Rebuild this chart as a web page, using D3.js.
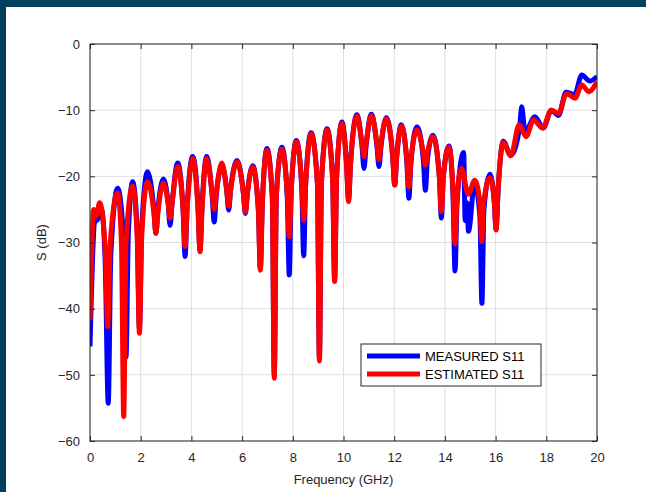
<!DOCTYPE html>
<html>
<head>
<meta charset="utf-8">
<script src="https://cdn.jsdelivr.net/npm/d3@7"></script>
<style>
  body { margin: 0; background: #fff; }
  text { font-family: "Liberation Sans", Arial, sans-serif; }
</style>
</head>
<body>
<div id="chart"></div>
<script>
// measured S11 (blue)
var measFreq = [0, 0.04, 0.18, 0.3, 0.45, 0.6, 0.72, 0.82, 1.09, 1.33, 1.42, 1.51, 1.68, 1.86, 1.95, 2.04, 2.27,
  2.52, 2.6, 2.68, 2.89, 3.08, 3.16, 3.24, 3.46, 3.67, 3.75, 3.83, 4.05, 4.26, 4.34, 4.42, 4.6, 4.82, 4.9, 4.98,
  5.2, 5.39, 5.47, 5.55, 5.8, 6.05, 6.13, 6.21, 6.42, 6.64, 6.72, 6.8, 6.98, 7.19, 7.27, 7.35, 7.57,
  7.78, 7.86, 7.94, 8.14, 8.35, 8.43, 8.51, 8.72, 8.97, 9.05, 9.13, 9.35, 9.57, 9.65, 9.73, 9.94,
  10.12, 10.2, 10.28, 10.53, 10.73, 10.81, 10.89, 11.1, 11.32, 11.4, 11.48, 11.69, 11.94, 12.02, 12.1, 12.28,
  12.5, 12.58, 12.66, 12.9, 13.15, 13.23, 13.31, 13.53, 13.78, 13.86, 13.94, 14.16, 14.32, 14.4, 14.48,
  14.74, 14.8, 14.87, 14.93, 15.17, 15.38, 15.46, 15.54, 15.78, 15.95, 16.02, 16.1,
  16.3, 16.6, 16.95, 17.03, 17.16, 17.55, 17.88, 18.2, 18.48, 18.78, 19.12, 19.4, 19.72, 20];
var measS11 = [-45.7, -40, -27, -26.5, -25, -33, -54.3, -32, -21.8, -30, -47.3, -29, -20.8, -28, -43, -28, -19.3,
  -25, -28.6, -25, -20.4, -24, -27.4, -24, -18, -25, -32.1, -25, -17, -24.5, -31.2, -24.5, -17, -23, -26.9, -23,
  -18.5, -22, -25.1, -22, -17.6, -22.5, -25.6, -22.5, -18.4, -25, -34, -24, -15.8, -23, -50, -23, -15.6,
  -23, -34.9, -22, -14.6, -21.5, -32, -21, -13.4, -21, -47.5, -21, -12.8, -20, -35.5, -20, -11.8,
  -18, -23.5, -18, -10.7, -15.5, -18.8, -15.5, -10.6, -15.5, -18.5, -15.5, -11.1, -17, -21.3, -17, -12.2,
  -18, -23.3, -18, -12.5, -17.5, -22.1, -17.5, -13.8, -20, -26.3, -20, -15.4, -23, -34.3, -24,
  -16.4, -26.7, -24, -28.3, -21.1, -26, -39.2, -25, -19.7, -24, -28, -22,
  -14.7, -16.8, -12.5, -9.5, -13.3, -11.0, -12.7, -10.0, -10.8, -7.3, -7.6, -4.7, -5.6, -4.9];

// estimated S11 (red)
var estFreq = [0, 0.03, 0.15, 0.25, 0.38, 0.6, 0.7, 0.8, 1.09, 1.24, 1.33, 1.42, 1.68, 1.86, 1.95, 2.04, 2.27,
  2.52, 2.6, 2.68, 2.89, 3.08, 3.16, 3.24, 3.46, 3.67, 3.75, 3.83, 4.05, 4.26, 4.34, 4.42, 4.6, 4.82, 4.9, 4.98,
  5.2, 5.39, 5.47, 5.55, 5.8, 6.05, 6.13, 6.21, 6.42, 6.64, 6.72, 6.8, 6.98, 7.19, 7.27, 7.35, 7.57,
  7.78, 7.86, 7.94, 8.14, 8.35, 8.43, 8.51, 8.72, 8.97, 9.05, 9.13, 9.35, 9.57, 9.65, 9.73, 9.94,
  10.12, 10.2, 10.28, 10.53, 10.73, 10.81, 10.89, 11.1, 11.32, 11.4, 11.48, 11.69, 11.94, 12.02, 12.1, 12.28,
  12.5, 12.58, 12.66, 12.9, 13.15, 13.23, 13.31, 13.53, 13.78, 13.86, 13.94, 14.16, 14.32, 14.4, 14.48,
  14.66, 14.92, 15.18, 15.38, 15.45, 15.53, 15.78, 15.95, 16.02, 16.1,
  16.3, 16.6, 16.93, 17.2, 17.5, 17.85, 18.2, 18.48, 18.8, 19.13, 19.4, 19.68, 20];
var estS11 = [-41.7, -37, -25, -26, -24, -31, -42.7, -30, -22.5, -30, -56.3, -30, -21.5, -29, -43.7, -29, -20.8,
  -25.5, -28.6, -25.5, -21, -24, -26.3, -24, -18.5, -25, -30.6, -25, -17.3, -25, -31.4, -25, -17.3, -22.5, -25, -22.5,
  -18, -22, -24.5, -22, -17.8, -22.5, -25.4, -22.5, -18.6, -25, -34.2, -24, -16.1, -23, -50.5, -23, -15.9,
  -22.5, -29.1, -22, -14.8, -21, -26.6, -21, -13.6, -21, -47.9, -21, -13, -20.5, -35.9, -20, -12,
  -18.5, -23.8, -18, -10.9, -15, -17, -15, -10.8, -15, -17.5, -15, -11.3, -17, -21.3, -17, -12.4,
  -17.5, -21.6, -17.5, -13, -16.5, -18.3, -16.5, -14, -20, -25.3, -20, -15.6, -22, -30.2, -23,
  -18.8, -22.7, -20.6, -24, -29.9, -24, -20.2, -24, -28.1, -22,
  -14.9, -16.9, -12.2, -14.0, -11.5, -12.7, -10.0, -10.5, -7.5, -8.2, -6.2, -7.2, -5.7];

var xTicks = [0, 2, 4, 6, 8, 10, 12, 14, 16, 18, 20];
var yTicks = [0, -10, -20, -30, -40, -50, -60];
var seriesNames = ["MEASURED S11", "ESTIMATED S11"];
var seriesColors = ["#0000ff", "#ff0000"];

var W = 646, H = 492;
var margin = { top: 44, right: 49, bottom: 51, left: 90 };
var width = W - margin.left - margin.right;
var height = H - margin.top - margin.bottom;

var svg = d3.select("#chart").append("svg")
  .attr("width", W)
  .attr("height", H);

// dark frame strips
svg.append("rect").attr("x", 0).attr("y", 0).attr("width", W).attr("height", 7).attr("fill", "#02415b");
svg.append("rect").attr("x", 0).attr("y", 0).attr("width", 6).attr("height", H).attr("fill", "#02415b");

var g = svg.append("g").attr("transform", "translate(" + margin.left + "," + margin.top + ")");

var x = d3.scaleLinear().domain([0, 20]).range([0, width]);
var y = d3.scaleLinear().domain([-60, 0]).range([height, 0]);

// grid
g.append("g").selectAll("line").data(xTicks).enter().append("line")
  .attr("x1", function (d) { return x(d); }).attr("x2", function (d) { return x(d); })
  .attr("y1", 0).attr("y2", height)
  .attr("stroke", "#dfdfdf").attr("stroke-width", 1);
g.append("g").selectAll("line").data(yTicks).enter().append("line")
  .attr("y1", function (d) { return y(d); }).attr("y2", function (d) { return y(d); })
  .attr("x1", 0).attr("x2", width)
  .attr("stroke", "#dfdfdf").attr("stroke-width", 1);

var line = d3.line()
  .x(function (d) { return x(d[0]); })
  .y(function (d) { return y(d[1]); })
  .curve(d3.curveMonotoneX);

var meas = measFreq.map(function (f, i) { return [f, measS11[i]]; });
var est = estFreq.map(function (f, i) { return [f, estS11[i]]; });

g.append("clipPath").attr("id", "clip").append("rect")
  .attr("width", width).attr("height", height);

[meas, est].forEach(function (s, i) {
  g.append("path")
    .datum(s)
    .attr("clip-path", "url(#clip)")
    .attr("fill", "none")
    .attr("stroke", seriesColors[i])
    .attr("stroke-width", 5)
    .attr("stroke-linejoin", "round")
    .attr("d", line);
});

// axes (ticks point inward)
var axColor = "#262626";
var xAxis = g.append("g").attr("transform", "translate(0," + height + ")")
  .call(d3.axisBottom(x).tickValues(xTicks).tickSize(-5).tickPadding(12));
var yAxis = g.append("g")
  .call(d3.axisLeft(y).tickValues(yTicks).tickSize(-5).tickPadding(10));
var xTop = g.append("g")
  .call(d3.axisTop(x).tickValues(xTicks).tickSize(-5).tickFormat(""));
var yRight = g.append("g").attr("transform", "translate(" + width + ",0)")
  .call(d3.axisRight(y).tickValues(yTicks).tickSize(-5).tickFormat(""));

[xAxis, yAxis, xTop, yRight].forEach(function (a) {
  a.select(".domain").remove();
  a.selectAll(".tick line").attr("stroke", axColor);
  a.selectAll("text").attr("fill", axColor).style("font-size", "13px")
    .style("font-family", "'Liberation Sans', Arial, sans-serif");
});

g.append("rect").attr("width", width).attr("height", height)
  .attr("fill", "none").attr("stroke", axColor).attr("stroke-width", 1);

// axis labels
g.append("text")
  .attr("x", width / 2).attr("y", height + 43)
  .attr("text-anchor", "middle").attr("fill", axColor).style("font-size", "13px")
  .text("Frequency (GHz)");
g.append("text")
  .attr("transform", "translate(" + (-44) + "," + (height / 2) + ") rotate(-90)")
  .attr("text-anchor", "middle").attr("fill", axColor).style("font-size", "13px")
  .text("S (dB)");

// legend
var legend = svg.append("g").attr("transform", "translate(361,344)");
legend.append("rect").attr("width", 180).attr("height", 42)
  .attr("fill", "#fff").attr("stroke", axColor).attr("stroke-width", 1);
seriesNames.forEach(function (name, i) {
  var ly = 12 + i * 18;
  legend.append("line")
    .attr("x1", 6).attr("x2", 59).attr("y1", ly).attr("y2", ly)
    .attr("stroke", seriesColors[i]).attr("stroke-width", 5);
  legend.append("text")
    .attr("x", 64).attr("y", ly).attr("dy", "0.36em")
    .attr("fill", "#000").style("font-size", "13px")
    .text(name);
});
</script>
</body>
</html>
